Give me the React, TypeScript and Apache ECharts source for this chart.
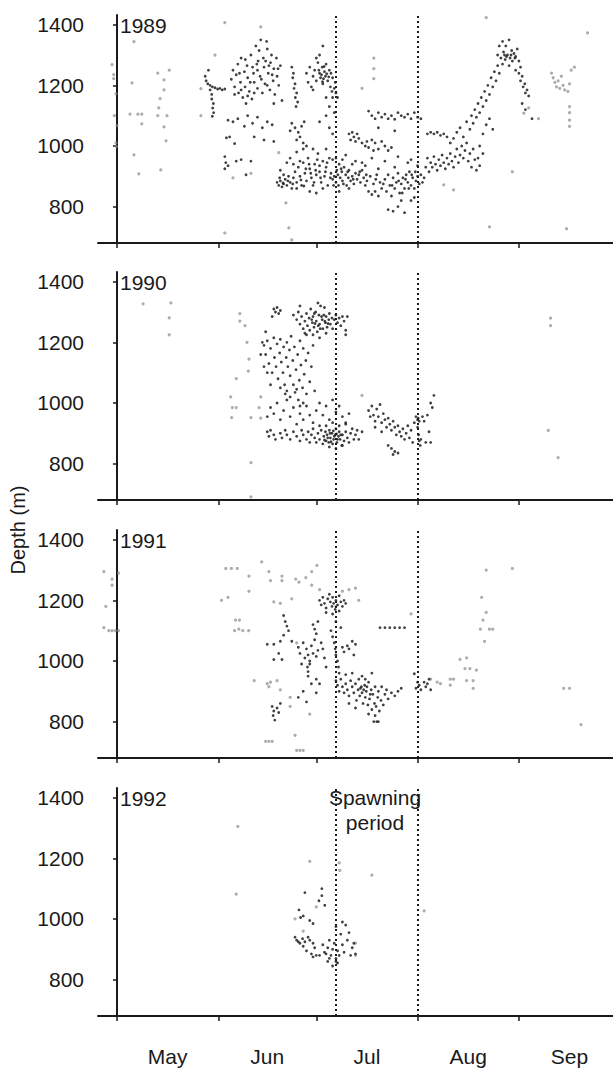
import React, { useEffect, useRef } from "react";
import * as echarts from "echarts";

// ---- axis definitions (day 0 = 1 May) ----
const monthNames = ["May", "Jun", "Jul", "Aug", "Sep"];
const monthStarts = [0, 31, 61, 92, 123];
const monthMids = [15.5, 46, 76.5, 107.5, 138.5];
const depthTicks = [800, 1000, 1200, 1400];
const years = ["1989", "1990", "1991", "1992"];
const spawningPeriod = [67, 92];

// ---- 1989 ----
const track1989: number[][] = [
  [27,1230],[27.3,1215],[27.8,1205],[28.5,1200],[29.2,1195],[30,1192],[30.8,1188],[31.5,1190],[32.2,1185],[33,1188],[28.5,1185],[29,1170],[29,1155],[29.5,1140],[29.3,1125],[29.6,1110],[29.2,1098],[28,1250],
  [35,1220],[35.5,1250],[36,1195],[36.5,1235],[37,1270],[37.2,1175],[37.8,1210],[38,1290],[38.5,1160],[39,1245],[39.2,1195],[39.8,1265],[40,1225],[40.5,1180],[41,1300],[41.3,1155],[41.8,1240],[42,1210],[42.5,1330],[42.8,1270],[43,1190],[43.5,1315],[43.8,1230],[44,1350],[44.5,1175],[44.8,1290],[45,1260],[45.3,1205],[45.8,1345],[46,1320],[46.3,1240],[46.8,1185],[47,1275],[47.3,1300],[47.8,1215],[48,1255],[48.3,1170],[48.8,1290],[49,1230],[49.5,1200],[50,1265],[50.5,1150],[38,1185],[40,1165],[43,1250],[46,1200],[39.5,1140],[42,1175],[36,1170],[48,1140],
  [37.5,1240],[40.8,1210],[44.2,1220],[47.5,1235],[45.5,1280],[43.2,1280],[39.3,1285],[41.5,1260],[46.5,1265],[49.3,1255],
  [34,1085],[35.5,1080],[37,1090],[39,1065],[40,1100],[41.5,1075],[43,1095],[44.5,1060],[46,1080],[47.5,1070],[42,1030],[45,1020],[48,1015],[33.5,1027],[34.5,1030],[36,1008],[33,965],[33.3,945],[33,925],[34,935],[36.5,950],[38,955],[41,950],[39.5,905],
  [53.5,1260],[54,1240],[53.8,1225],[54.5,1205],[54.2,1190],[55,1175],[54.6,1160],[55.3,1145],[54.8,1130],
  [53.5,1075],[54.5,1060],[55.5,1045],[56.5,1065],[57.3,1080],[56,1030],[55,1020],[57,1010],[53,1050],
  [58,1240],[58.5,1210],[59,1260],[59.5,1195],[60,1230],[60.5,1250],[61,1215],[61.5,1275],[62,1240],[62.3,1225],[62.8,1260],[63,1205],[63.5,1245],[63.8,1230],[64,1270],[64.5,1215],[65,1250],[65.3,1195],[65.8,1180],[66,1225],[62,1300],[63,1330],[61,1290],[60,1185],[64,1160],[66,1160],[65,1130],[66.5,1110],[64,1100],[62,1080],[65,1060],[66,1040],[66.5,1190],[67,1175],[67.5,1160],[66.8,1210],
  [62.6,1235],[63.2,1222],[64.2,1238],[64.8,1228],[63.4,1262],[65.5,1240],[61.8,1250],[62.9,1212],
  [49,880],[49.5,870],[50,885],[50.5,865],[51,875],[51.5,890],[52,870],[52.5,900],[53,880],[53.5,860],[54,895],[54.5,915],[55,880],[55.5,930],[56,900],[56.5,870],[57,945],[57.5,910],[58,885],[58.5,960],[59,925],[59.5,895],[60,870],[60.5,940],[61,905],[61.5,975],[62,915],[62.5,880],[63,950],[63.5,900],[64,930],[64.5,870],[65,960],[65.5,910],[66,890],[53,960],[55,980],[57,990],[59,850],[61,845],[63,860],[56,950],[58,1000],[60,990],[52,945],[54,940],[62,935],[50,920],[51,905],[55,860],[64,990],[66,955],
  [49.8,895],[50.8,878],[52.3,885],[53.8,875],[56.3,888],[57.8,925],[59.3,910],[60.8,920],[62.3,895],[63.8,915],[65.3,895],[66.3,870],[58.8,940],[61.3,955],[64.3,945],[60.3,880],[57.2,868],
  [66.5,900],[67,880],[67.3,920],[67.8,870],[68,940],[68.3,895],[68.8,915],[69,885],[69.5,930],[70,905],[70.3,870],[70.8,895],[71,920],[71.5,885],[72,900],[72.5,875],[73,910],[73.5,890],[74,905],[74.5,880],[75,920],[75.5,895],[76,870],[76.5,885],[77,850],[77.5,900],[78,840],[78.5,875],[79,850],[79.5,905],[80,835],[80.5,880],[81,860],[82,890],[82.5,850],[83,905],[83.5,870],[84,835],[84.5,895],[85,860],[85.5,880],[86,910],[86.5,845],[87,875],[87.5,895],[88,860],[88.5,905],[89,880],[89.5,915],[90,870],[90.5,895],[91,860],[91.5,885],[92,900],[92.5,875],[93,905],[93.5,880],[94,895],[83,790],[84.5,785],[86,800],[88,780],[90,820],[91,830],[67,960],[69,955],[72,940],[75,945],[80,925],[85,930],[89,945],[92,935],[68,850],[71,860],[87,820],[76,935],[78,960],[82,950],[86,965],[90,955],[70,970],[73,950],
  [67.6,905],[68.6,925],[69.3,875],[70.6,915],[72.3,890],[74.3,915],[76.3,905],[79.2,890],[81.5,875],[84.2,870],[86.2,885],[88.3,890],[90.2,905],[91.3,915],[87.3,845],[89.3,860],
  [71,1040],[71.5,1020],[72,1045],[72.5,1030],[73,1015],[73.5,1040],[74,1025],[75,1010],[76,1000],[76.5,1015],[77,995],[78,1020],[78.5,985],[79,1010],[80,990],[81,1015],[82,1000],[83,985],[84,995],[77,1115],[78,1100],[79,1090],[80,1110],[81,1095],[82,1105],[83,1090],[84,1100],[85,1088],[86,1110],[87,1100],[88,1095],[89,1105],[90,1090],[91,1110],[92,1095],[93,1090],[85,1050],[80,1060],
  [95,1040],[96,1045],[97,1040],[98,1045],[99,1035],[100,1040],[101,1030],[94.5,930],[95,960],[95.5,915],[96,945],[96.5,930],[97,965],[97.5,940],[98,920],[98.5,955],[99,935],[99.5,970],[100,945],[100.5,925],[101,960],[101.5,940],[102,975],[102.5,950],[103,930],[103.5,965],[104,990],[104.5,945],[105,970],[105.5,1000],[106,960],[106.5,985],[107,1010],[107.5,950],[108,975],[108.5,930],[109,990],[109.5,955],[110,920],[110.5,960],[111,935],[112,975],[102,1010],[103,1025],[104,1045],[105,1060],[106,1030],[107,1080],[108,1055],[108.5,1100],[109,1075],[109.5,1120],[110,1095],[110.5,1140],[111,1110],[111.5,1160],[112,1130],[112.5,1180],[113,1150],[113.5,1200],[114,1170],[114.5,1225],[115,1195],[115.5,1245],[116,1215],[116.5,1265],[117,1240],[113,1070],[114,1090],[115,1055],[112,1040],[111,1000],
  [116.5,1300],[117,1330],[117.5,1290],[118,1345],[118.3,1310],[118.8,1285],[119,1330],[119.5,1300],[120,1350],[120.3,1290],[120.8,1315],[121,1280],[121.5,1305],[122,1295],[122.5,1320],[123,1280],[123.5,1260],[118,1270],[120,1265],[122,1250],
  [119.2,1295],[120.6,1300],[121.8,1290],[118.6,1300],
  [123,1240],[123.5,1215],[124,1230],[124.3,1195],[124.8,1205],[125,1175],[125.5,1185],[126,1165],[124,1140],[125,1120],[127,1090],
];
const scatter1989: number[][] = [
  [-1.5,1268],[-1,1235],[-1,1222],[-0.3,1172],[-0.8,1100],[0,1067],[-0.3,1010],[-0.2,998],[5.2,1344],[4.6,1208],[4,1105],[6.4,1105],[7.6,1105],[7.6,1073],[5.2,971],[6.7,908],[12.5,1240],[16,1250],[14.4,1218],[14.4,1185],[13.2,1156],[12.8,1126],[12.5,1100],[15.3,1100],[14.4,1063],[15,1017],[13.4,921],[25.7,1189],[25.7,1100],[30,1300],[33,1407],[33,713],[49.5,978],[44,1393],[52.6,730],[53.5,690],[51.7,812],[35.5,895],[41,910],
  [78.6,1290],[78.6,1255],[78.6,1222],[75,1190],[113,1423],[121,915],[114,733],[137.6,727],[144,1373],[103,855],[100,872],[126,1126],[129,1090],[124.5,1108],
  [133,1240],[133.5,1225],[134,1210],[134.5,1195],[135,1215],[135.5,1190],[136,1230],[136.5,1200],[137,1185],[138,1180],[139,1250],[140,1260],[138.5,1205],[138.5,1130],[138.5,1110],[138.5,1085],[138.5,1065],
];

// ---- 1990 ----
const track1990: number[][] = [
  [54,1290],[55,1275],[55.5,1300],[56,1260],[56.5,1285],[57,1245],[57.5,1270],[58,1295],[58.3,1255],[58.8,1280],[59,1240],[59.3,1310],[59.8,1265],[60,1285],[60.3,1250],[60.8,1300],[61,1270],[61.3,1235],[61.8,1290],[62,1260],[62.3,1320],[62.8,1275],[63,1245],[63.3,1290],[63.8,1265],[64,1285],[64.3,1250],[64.8,1275],[65,1295],[65.3,1260],[65.8,1280],[66,1245],[66.5,1275],[67,1290],[67.5,1265],[68,1280],[68.5,1255],[69,1285],[69.5,1270],[70,1240],[60,1225],[62,1215],[64,1230],[58,1225],[70.5,1285],[70,1225],[61.5,1330],[63.5,1315],[56,1320],[57.5,1230],
  [59.6,1275],[60.6,1262],[61.6,1255],[62.6,1285],[63.6,1270],[64.6,1262],[60.4,1295],[62.2,1245],
  [48,1310],[48.5,1300],[49,1315],[49.5,1295],[50,1305],[47.5,1285],
  [45,1190],[45.5,1160],[46,1205],[46.5,1130],[47,1180],[47.5,1100],[48,1215],[48.2,1150],[48.7,1120],[49,1195],[49.3,1080],[49.8,1165],[50,1210],[50.3,1135],[50.8,1100],[51,1185],[51.3,1060],[51.8,1150],[52,1200],[52.3,1120],[52.8,1175],[53,1090],[53.3,1220],[53.8,1140],[54,1060],[54.3,1185],[54.8,1110],[55,1045],[55.3,1160],[55.8,1075],[56,1205],[56.3,1125],[56.8,1050],[57,1180],[57.3,1095],[57.8,1140],[58,1030],[58.5,1165],[59,1070],[59.5,1120],[60,1190],[60.5,1040],[47,1060],[46,1100],[52,1040],[50,1050],[53,1020],[54.5,1035],[55.5,1010],[56,990],[57,1000],[51.5,1030],[45,1120],[44,1160],[44.5,1200],[45.5,1235],
  [46,955],[47,985],[48,965],[49,1000],[50,945],[51,975],[52,1010],[53,955],[54,985],[55,930],[56,965],[57,945],[58,990],[59,960],[60,935],[61,975],[62,1000],[63,960],[64,990],[65,945],[66,1010],[67,970],[68,990],[69,955],[70,935],[71,965],
  [46,905],[46.5,890],[47,910],[48,895],[48.5,880],[50,900],[50.5,885],[51.5,910],[52,895],[53,880],[54,905],[55,890],[56,875],[56.5,910],[57,895],[58,880],[58.5,905],[59,870],[59.5,895],[60,915],[60.5,885],[61,870],[61.5,900],[62,880],[62.5,910],[63,865],[63.3,890],[63.8,905],[64,875],[64.3,895],[64.8,870],[65,910],[65.3,885],[65.8,900],[66,865],[66.3,880],[66.8,895],[67,915],[67.3,870],[67.8,890],[68,905],[68.3,880],[68.8,860],[69,895],[69.5,875],[70,905],[70.5,885],[71,870],[71.5,900],[72,915],[72.5,880],[73,895],[73.5,910],[74,880],[75,905],[64,925],[66,935],[68,925],[70,930],[62,925],[65,855],[67,850],[69,860],
  [63.5,878],[64.5,885],[65.5,872],[66.5,890],[67.5,880],[68.5,895],[65.2,900],[66.2,908],[67.2,898],
  [77,975],[77.5,955],[78,990],[78.5,960],[79,940],[79.5,980],[80,955],[80.5,995],[81,935],[81.5,965],[82,945],[82.5,920],[83,950],[83.5,930],[84,910],[84.5,940],[85,920],[85.5,895],[86,925],[86.5,905],[87,890],[87.5,915],[88,880],[88.5,900],[89,925],[89.5,885],[90,910],[90.5,870],[91,935],[91.5,955],[92,945],[92.2,950],[92.5,940],[92,920],[92.3,895],[92.5,875],[92.8,860],[93,880],[93.5,955],[94,940],[95,960],[95.5,905],[96,1000],[96.5,985],[97,1025],[96,870],[94.5,870],[84,850],[85,840],[86,835],[84.5,830],[83,860],[79,920],[81,905],
];
const scatter1990: number[][] = [
  [8,1327],[16.5,1330],[16,1281],[16,1225],[37.6,1295],[37.6,1270],[39.2,1255],[39.8,1200],[40.4,1145],[40.2,1105],[36.5,1080],[34.8,1020],[35.3,985],[36.5,985],[35.1,952],[41,952],[41,803],[41,690],[75,1025],[132.7,1280],[132.7,1255],[132,910],[135,820],[44,1020],[43.5,985],[44,950],
];

// ---- 1991 ----
const track1991: number[][] = [
  [62,1200],[62.5,1185],[63,1210],[63.5,1190],[64,1175],[64.5,1205],[65,1220],[65.3,1195],[65.8,1180],[66,1210],[66.3,1190],[66.8,1170],[67,1200],[67.5,1185],[68,1215],[68.5,1195],[69,1180],[69.5,1200],[70,1190],[64,1160],[66,1155],[68,1165],
  [46,1055],[48,1055],[49.5,1025],[48,1005],[50.5,1005],[53.5,1065],[55.5,1045],[56,1025],[57,1060],[57.5,1010],[58,1040],[58.5,1020],[59,1000],[59.5,1050],[60,1025],[60.5,1070],[61,1015],[61.5,1035],[56.5,990],[58.3,980],[58.5,965],[58.5,950],[59,990],[61,940],[62,925],[60,1120],[60.5,1105],[61,1090],[61.5,1130],[62.5,1060],[63,1040],[63.5,1010],[64,980],[65.5,1100],[66,1080],[66.5,1060],[66.8,1040],[67,1020],[67.5,1000],[67.8,980],[68,960],[67,1130],[68.5,1110],[69,1045],[69.5,1030],[70.5,1050],[71,1040],[72,1065],[72.5,1020],[73,1055],[55.5,880],[57,900],[58,865],[59.5,925],[61,895],[52,1115],[52.5,1100],[51,1085],[50,1065],[51,1150],[51.5,1130],[47.5,850],[48,835],[47.8,820],[48.3,805],[49,845],[49.5,830],[50,860],
  [67,935],[67.5,920],[68,900],[68.5,940],[69,915],[69.5,895],[70,925],[70.5,905],[71,885],[71.5,935],[72,915],[72.5,895],[73,925],[73.3,870],[73.8,905],[74,940],[74.3,885],[74.8,915],[75,895],[75.3,860],[75.8,920],[76,880],[76.3,900],[76.8,855],[77,930],[77.3,875],[77.8,905],[78,840],[78.3,890],[78.8,860],[79,915],[79.3,850],[79.8,880],[80,900],[80.3,835],[80.8,870],[81,915],[81.5,855],[82,890],[82.5,905],[83,875],[84,895],[85,885],[86,900],[87,910],[79,820],[80,800],[77,825],[75,950],[78,960],[76,940],[72,960],[70,955],[73,845],[71,860],[78.6,800],[79.5,800],[74.5,910],[76.5,915],[77.5,890],[75.5,905],
  [80.5,1110],[82,1110],[83.5,1110],[85,1110],[86.5,1110],[88,1110],
  [91,958],[92,930],[91.5,910],[92.5,920],[93,905],[94,930],[94.5,915],[95,925],[95.5,940],[96,905],
];
const scatter1991: number[][] = [
  [-4,1295],[-1.5,1270],[0.5,1290],[-1.5,1250],[-3.4,1180],[-4,1110],[-2.5,1100],[-1.5,1100],[-0.5,1100],[0.5,1100],[33.3,1305],[35,1305],[36.8,1305],[32,1200],[34,1210],[36.3,1135],[37.5,1135],[36,1100],[37.3,1105],[38.5,1100],[40.3,1100],[40.4,1280],[40.4,1230],[44.3,1327],[46.5,1295],[47,1265],[50.5,1265],[50.5,1280],[54.7,1270],[57.8,1275],[59.6,1250],[55.7,1260],[61.2,1315],[59.6,1295],[53.5,1205],[42,935],[46,925],[47,930],[49,935],[50,905],[46.5,915],[45.5,735],[46.5,735],[47.5,735],[55,705],[56,705],[57,705],[54.5,755],[59,825],[53,880],[53,850],[73,1240],[74,1200],[90,1155],[102,940],[103,940],[102,920],[105,1005],[107,1010],[106.5,975],[108,975],[107,935],[109,935],[110,970],[109,910],[111.6,1210],[113,1160],[112,1135],[111.2,1105],[114,1105],[115,1105],[112.5,1065],[113,1300],[121,1305],[136.7,910],[138.5,910],[142,790],[96,940],[98,930],[99,925],[48,1195],[50,1190],[55,1060],[62,1235],[69,1230],[71,1235],[67,1180],
];

// ---- 1992 ----
const track1992: number[][] = [
  [57.5,1087],[62.7,1100],[62.7,1077],[61.8,1060],[63.6,1045],[55.7,1030],[56.2,1005],[57,1010],[59,995],[60,985],[54.5,940],[55,930],[56,920],[56.8,935],[57.5,925],[58.5,940],[59,930],[60,920],[55.5,925],[57,910],[58,895],[59.5,885],[60.5,905],[61,880],[63,915],[63.5,890],[64.5,905],[65,930],[65.5,880],[66,900],[66.5,920],[67,870],[67.5,895],[68,880],[68.5,950],[69,915],[69.5,890],[70.5,930],[71,955],[71.5,880],[72,905],[73,885],[72.5,920],[69,990],[70,980],[67,975],[64,885],[65,870],[62,880],[60,875],[67,860],[66,845],[67.5,855],[64.5,860],
];
const scatter1992: number[][] = [
  [37,1305],[36.5,1082],[59,1190],[68,1185],[68.2,1160],[78,1145],[94,1027],[54.5,1000],[57,960],[61,1040],[73,920],[73,880],
];

const tracks = [track1989, track1990, track1991, track1992];
const scatters = [scatter1989, scatter1990, scatter1991, scatter1992];

const FONT = "'Liberation Sans', Arial, Helvetica, sans-serif";
const gridTops = [15, 272, 530, 788];
const GRID_H = 228;

export default function App() {
  const ref = useRef<HTMLDivElement>(null);
  useEffect(() => {
    if (!ref.current) return;
    const chart = echarts.init(ref.current, null, { renderer: "svg" });
    const grids = gridTops.map((t) => ({ left: 98, right: 0, top: t, height: GRID_H }));
    const xAxes = gridTops.map((_, i) => ({
      type: "value",
      gridIndex: i,
      min: -5.8,
      max: 151.8,
      splitLine: { show: false },
      axisLine: { show: true, lineStyle: { color: "#1a1a1a", width: 2 } },
      axisTick: { show: true, customValues: monthStarts, length: 5, lineStyle: { color: "#1a1a1a", width: 1.5 } },
      axisLabel: {
        show: i === 3,
        customValues: monthMids,
        margin: 30,
        fontSize: 21,
        fontFamily: FONT,
        color: "#1a1a1a",
        formatter: (v: number) => {
          const k = monthMids.indexOf(v);
          return k >= 0 ? monthNames[k] : "";
        },
      },
    }));
    const yAxes = gridTops.map((_, i) => ({
      type: "value",
      gridIndex: i,
      min: 680,
      max: 1432,
      splitLine: { show: false },
      axisLine: { show: true, lineStyle: { color: "#1a1a1a", width: 2 } },
      axisTick: { show: true, customValues: depthTicks, length: 4, lineStyle: { color: "#1a1a1a", width: 1.5 } },
      axisLabel: {
        customValues: depthTicks,
        margin: 14,
        fontSize: 21,
        fontFamily: FONT,
        color: "#1a1a1a",
        formatter: (v: number) => String(v),
      },
    }));
    const series: any[] = [];
    tracks.forEach((d, i) => {
      series.push({
        type: "scatter",
        xAxisIndex: i,
        yAxisIndex: i,
        data: scatters[i],
        symbolSize: 3.2,
        itemStyle: { color: "#8a8a8a", opacity: 0.7 },
        silent: true,
      });
      series.push({
        type: "scatter",
        xAxisIndex: i,
        yAxisIndex: i,
        data: d,
        symbolSize: 2.8,
        itemStyle: { color: "#1e1e1e", opacity: 0.85 },
        silent: true,
        markLine: {
          silent: true,
          symbol: "none",
          label: { show: false },
          lineStyle: { type: [2, 3], color: "#1a1a1a", width: 2 },
          data: spawningPeriod.map((v) => ({ xAxis: v })),
        },
      });
    });
    const graphic: any[] = years.map((y, i) => ({
      type: "text",
      x: 120,
      y: gridTops[i] + 10,
      style: { text: y, fontSize: 21, fontFamily: FONT, fill: "#1a1a1a", align: "left", verticalAlign: "middle" },
    }));
    graphic.push({
      type: "text",
      x: 18,
      y: 530,
      rotation: Math.PI / 2,
      style: { text: "Depth (m)", fontSize: 20, fontFamily: FONT, fill: "#1a1a1a", align: "center", verticalAlign: "middle" },
    });
    graphic.push({
      type: "text",
      x: 375,
      y: 797,
      style: { text: "Spawning", fontSize: 21, fontFamily: FONT, fill: "#1a1a1a", align: "center", verticalAlign: "middle" },
    });
    graphic.push({
      type: "text",
      x: 375,
      y: 822,
      style: { text: "period", fontSize: 21, fontFamily: FONT, fill: "#1a1a1a", align: "center", verticalAlign: "middle" },
    });
    chart.setOption({
      animation: false,
      backgroundColor: "#ffffff",
      grid: grids,
      xAxis: xAxes,
      yAxis: yAxes,
      series,
      graphic,
    });
    return () => chart.dispose();
  }, []);
  return <div ref={ref} style={{ position: "absolute", left: 0, top: 0, width: 613, height: 1068 }} />;
}
